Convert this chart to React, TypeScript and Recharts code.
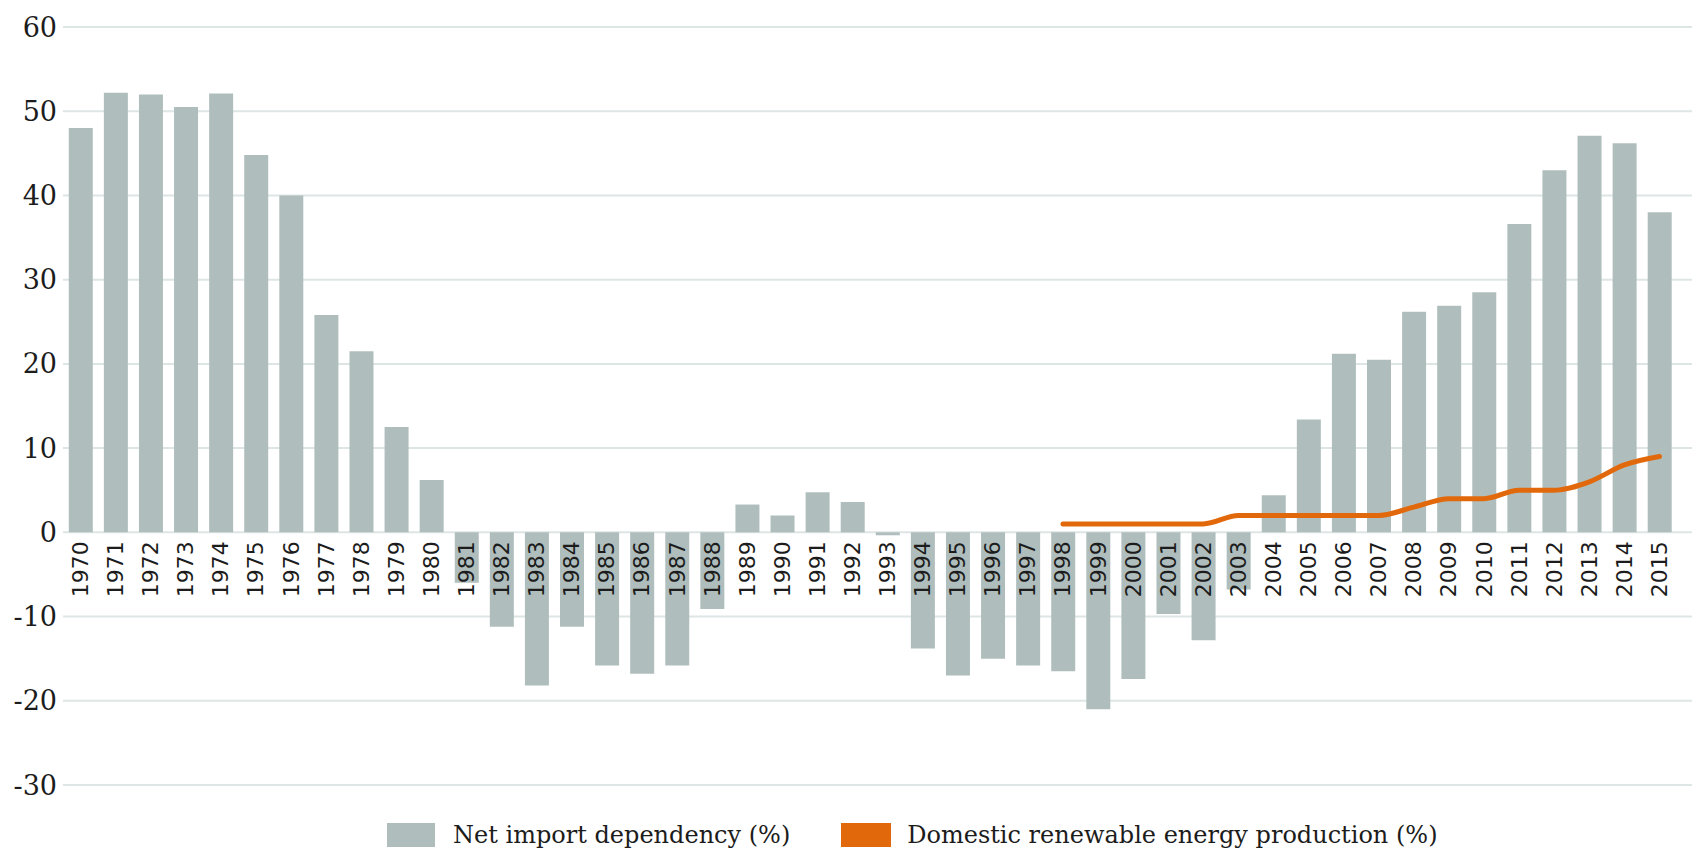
import React from "react";
import { ComposedChart, Bar, Line, YAxis, XAxis, CartesianGrid, Legend, LabelList } from "recharts";

const years = [
  "1970", "1971", "1972", "1973", "1974", "1975", "1976", "1977", "1978", "1979",
  "1980", "1981", "1982", "1983", "1984", "1985", "1986", "1987", "1988", "1989",
  "1990", "1991", "1992", "1993", "1994", "1995", "1996", "1997", "1998", "1999",
  "2000", "2001", "2002", "2003", "2004", "2005", "2006", "2007", "2008", "2009",
  "2010", "2011", "2012", "2013", "2014", "2015",
];

const netImport = [
  48, 52.2, 52, 50.5, 52.1, 44.8, 40, 25.8, 21.5, 12.5,
  6.2, -6, -11.2, -18.2, -11.2, -15.8, -16.8, -15.8, -9.1, 3.3,
  2.0, 4.75, 3.6, -0.35, -13.8, -17, -15, -15.8, -16.5, -21,
  -17.4, -9.7, -12.8, -6.8, 4.4, 13.4, 21.2, 20.5, 26.2, 26.9,
  28.5, 36.6, 43, 47.1, 46.2, 38,
];

const renewable: (number | null)[] = [
  null, null, null, null, null, null, null, null, null, null,
  null, null, null, null, null, null, null, null, null, null,
  null, null, null, null, null, null, null, null, 1, 1,
  1, 1, 1, 2, 2, 2, 2, 2, 3, 4,
  4, 5, 5, 6, 8, 9,
];

const yTicks = [-30, -20, -10, 0, 10, 20, 30, 40, 50, 60];

const seriesNames = ["Net import dependency (%)", "Domestic renewable energy production (%)"];

const BAR_COLOR = "#afbebd";
const LINE_COLOR = "#e2690b";
const GRID_COLOR = "#dde6e5";
const TEXT_COLOR = "#1c1c1c";

const data = years.map((year, i) => ({
  year,
  netImport: netImport[i],
  renewable: renewable[i],
}));

const YearLabel = (props: any) => {
  const { x, y, value } = props;
  if (x == null || y == null) return null;
  const ty = y + 9;
  return (
    <text
      x={x}
      y={ty}
      transform={`rotate(-90 ${x} ${ty})`}
      textAnchor="end"
      dominantBaseline="central"
      fontFamily="DejaVu Sans"
      fontSize={22}
      fill={TEXT_COLOR}
    >
      {value}
    </text>
  );
};

const LegendContent = () => (
  <div
    style={{
      height: 66,
      display: "flex",
      alignItems: "flex-end",
      paddingLeft: 387,
      paddingBottom: 4,
      boxSizing: "border-box",
      fontFamily: "DejaVu Serif",
      fontSize: 24,
      color: TEXT_COLOR,
    }}
  >
    <div style={{ display: "flex", alignItems: "center", marginRight: 51 }}>
      <div style={{ width: 48, height: 24, background: BAR_COLOR, marginRight: 18 }} />
      <span style={{ lineHeight: "24px", whiteSpace: "nowrap" }}>{seriesNames[0]}</span>
    </div>
    <div style={{ display: "flex", alignItems: "center" }}>
      <div style={{ width: 50, height: 24, background: LINE_COLOR, marginRight: 16 }} />
      <span style={{ lineHeight: "24px", whiteSpace: "nowrap" }}>{seriesNames[1]}</span>
    </div>
  </div>
);

export default function App() {
  return (
    <div style={{ width: 1692, height: 851, background: "#fff" }}>
      <style>{"body{margin:0;background:#fff}"}</style>
      <ComposedChart
        width={1692}
        height={851}
        data={data}
        margin={{ top: 27, right: 0, bottom: 0, left: 0 }}
        barCategoryGap="16.5%"
      >
        <CartesianGrid vertical={false} stroke={GRID_COLOR} strokeWidth={2} />
        <XAxis dataKey="year" hide padding={{ left: 0, right: 15 }} />
        <YAxis
          domain={[-30, 60]}
          ticks={yTicks}
          width={63}
          axisLine={false}
          tickLine={false}
          tickSize={0}
          tickMargin={6}
          tick={{ fontFamily: "DejaVu Serif", fontSize: 27, fill: TEXT_COLOR }}
          interval={0}
        />
        <Legend verticalAlign="bottom" height={66} content={<LegendContent />} />
        <Bar dataKey="netImport" name={seriesNames[0]} fill={BAR_COLOR} isAnimationActive={false} />
        <Line
          dataKey="renewable"
          name={seriesNames[1]}
          type="monotone"
          stroke={LINE_COLOR}
          strokeWidth={5}
          strokeLinecap="round"
          dot={false}
          activeDot={false}
          connectNulls={false}
          isAnimationActive={false}
        />
        <Line
          dataKey={() => 0}
          stroke="none"
          dot={false}
          activeDot={false}
          legendType="none"
          isAnimationActive={false}
        >
          <LabelList dataKey="year" content={<YearLabel />} />
        </Line>
      </ComposedChart>
    </div>
  );
}
